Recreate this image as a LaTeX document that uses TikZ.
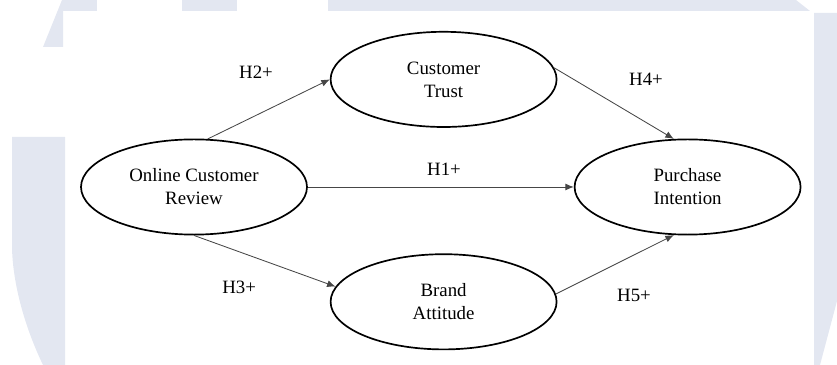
\documentclass[tikz,border=0pt]{standalone}
\usepackage{fontspec}
\setmainfont{Liberation Serif}
\usepackage{xcolor}
\usepackage{tikz}
\usetikzlibrary{shapes.geometric, arrows.meta}

\definecolor{wmblue}{RGB}{227,231,241}
\definecolor{linegray}{RGB}{70,70,70}

\begin{document}
\begin{tikzpicture}[>={Latex[length=6pt,width=5pt]},
    construct/.style={draw, ellipse, line width=1.2pt, minimum width=5.65cm,
        minimum height=2.38cm, inner sep=0pt, align=center,
        font=\fontsize{13.4}{16.4}\selectfont},
    path/.style={->, line width=0.6pt, draw=linegray},
    hyp/.style={font=\fontsize{13.4}{16.4}\selectfont}]
    \useasboundingbox (0,0) rectangle (20.925,9.125);

    % 1. Nền (watermark)
    \fill[wmblue] (1.575,9.125) -- (2.425,9.125) -- (2.425,8.85) -- (1.575,8.85) -- cycle;
    \fill[wmblue] (4.55,9.125) -- (5.925,9.125) -- (5.925,8.85) -- (4.55,8.85) -- cycle;
    \fill[wmblue] (8.2,9.125) -- (19.9,9.125) -- (20.25,8.85) -- (8.2,8.85) -- cycle;
    \fill[wmblue] (1.55,9.125) -- (1.575,9.125) -- (1.575,7.95) -- (1.075,7.95) -- cycle;
    \fill[wmblue] (0.3,5.7) -- (1.625,5.7) -- (1.625,0) -- (1.075,0)
        .. controls (0.5,1.2) and (0.3,2.3) .. (0.3,3.0) -- cycle;
    \fill[wmblue] (20.35,8.8) -- (20.925,8.8) -- (20.925,1.6) -- (20.5,0) -- (20.35,0) -- cycle;

    % 2. Các biến
    \node[construct] (review)    at (4.85,4.45)  {Online Customer\\Review};
    \node[construct] (trust)     at (11.09,7.14) {Customer\\Trust};
    \node[construct] (attitude)  at (11.09,1.58) {Brand\\Attitude};
    \node[construct] (intention) at (17.19,4.45) {Purchase\\Intention};

    % 3. Các giả thuyết
    \draw[path] (review.74) -- (trust.west);
    \draw[path] (review.east) -- (intention.west);
    \draw[path] (review.south) -- (attitude.172);
    \draw[path] (trust.6) -- (intention.106);
    \draw[path] (attitude.4) -- (intention.254);

    % 4. Nhãn
    \node[hyp] (h1) at (11.1,4.9)   {H1+};
    \node[hyp] (h2) at (6.4,7.33)   {H2+};
    \node[hyp] (h3) at (5.98,1.95)  {H3+};
    \node[hyp] (h4) at (16.15,7.13) {H4+};
    \node[hyp] (h5) at (15.85,1.75) {H5+};
\end{tikzpicture}
\end{document}
